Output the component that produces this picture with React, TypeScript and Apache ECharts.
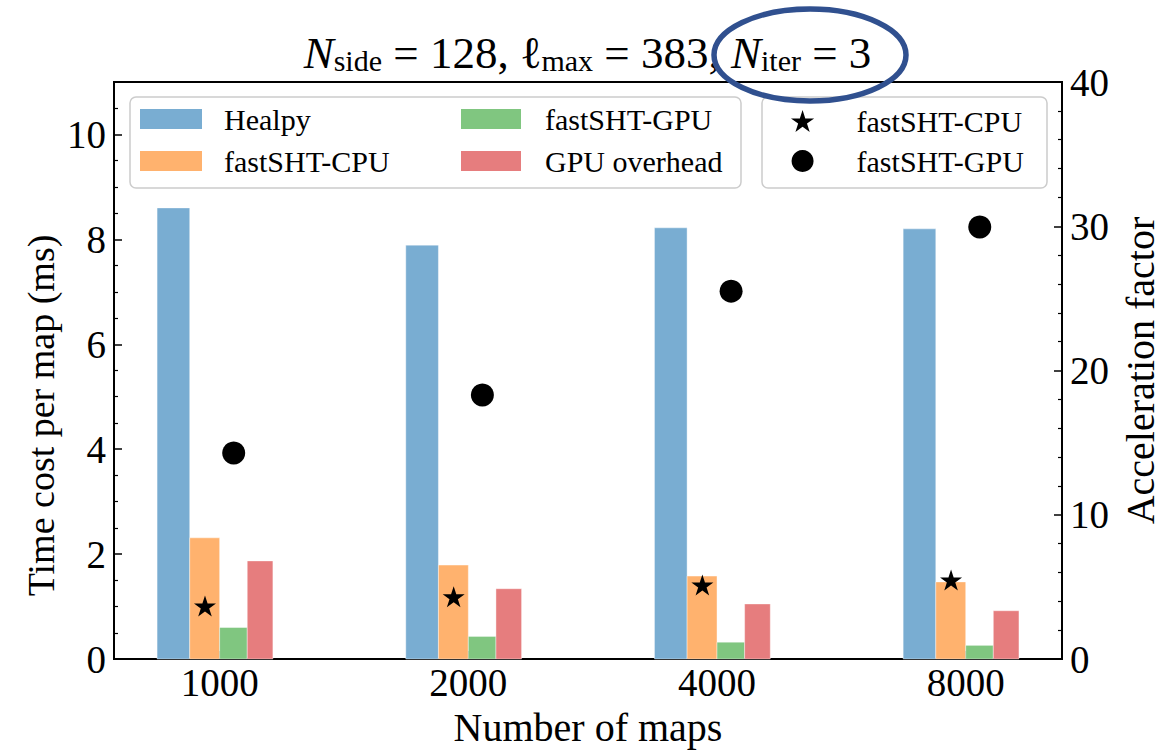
import React, { useEffect, useRef } from "react";
import * as echarts from "echarts";

// Number of maps processed per run (x positions, drawn on a base-2 log scale)
const MAPS = [1000, 2000, 4000, 8000];

// Time cost per map (ms), left axis
const HEALPY = [8.6, 7.89, 8.22, 8.2];
const FASTSHT_CPU = [2.31, 1.79, 1.58, 1.47];
const FASTSHT_GPU = [0.6, 0.43, 0.32, 0.26];
const GPU_OVERHEAD = [1.87, 1.34, 1.05, 0.92];

// Acceleration factor relative to Healpy, right axis
const ACC_CPU = [3.67, 4.32, 5.13, 5.48];
const ACC_GPU = [14.28, 18.3, 25.5, 29.95];

const FONT = "'Liberation Serif', 'DejaVu Serif', serif";

const COLORS = {
  healpy: "#79add2",
  cpu: "#ffb26e",
  gpu: "#80c680",
  overhead: "#e67d7e",
};

const STAR =
  "path://M0,-100L22.45,-30.9L95.1,-30.9L36.3,11.8L58.8,80.9L0,38.2L-58.8,80.9L-36.3,11.8L-95.1,-30.9L-22.45,-30.9Z";

// Each bar spans [n*lo, n*hi] in map-count units (edge-aligned bars on a log axis)
function barSeries(name: string, values: number[], lo: number, hi: number, color: string) {
  return {
    type: "custom",
    name,
    xAxisIndex: 0,
    yAxisIndex: 0,
    z: 2,
    encode: { x: 0, y: 1 },
    data: MAPS.map((n, i) => [Math.log2(n), values[i]]),
    renderItem: (_params: any, api: any) => {
      const x = api.value(0);
      const v = api.value(1);
      const p0 = api.coord([x + Math.log2(lo), v]);
      const p1 = api.coord([x + Math.log2(hi), 0]);
      return {
        type: "rect",
        shape: { x: p0[0], y: p0[1], width: p1[0] - p0[0], height: p1[1] - p0[1] },
        style: { fill: color, stroke: "rgba(255,255,255,0.5)", lineWidth: 0.8 },
      };
    },
  };
}

export default function App() {
  const ref = useRef<HTMLDivElement>(null);

  useEffect(() => {
    if (!ref.current) return;
    const chart = echarts.init(ref.current, null, { renderer: "svg" });

    const legendText = (pad: number) => ({
      fontFamily: FONT,
      fontSize: 30,
      lineHeight: 30,
      color: "#000",
      padding: [0, 0, 0, pad],
    });

    const option: any = {
      animation: false,
      backgroundColor: "#ffffff",
      title: {
        left: "center",
        top: 22,
        text: "{it|N}{sub|side}{rm| = 128, }{rm|ℓ}{sub|max}{rm| = 383, }{it|N}{sub|iter}{rm| = 3}",
        textStyle: {
          fontWeight: "normal",
          rich: {
            it: { fontFamily: FONT, fontSize: 45, fontStyle: "italic", fontWeight: "normal", lineHeight: 48, verticalAlign: "bottom", color: "#000" },
            rm: { fontFamily: FONT, fontSize: 45, fontWeight: "normal", lineHeight: 48, verticalAlign: "bottom", color: "#000" },
            sub: { fontFamily: FONT, fontSize: 30, fontWeight: "normal", lineHeight: 20, verticalAlign: "bottom", color: "#000" },
          },
        },
      },
      grid: {
        left: 114,
        top: 82,
        width: 948,
        height: 577,
        show: true,
        borderColor: "#000",
        borderWidth: 2,
        backgroundColor: "transparent",
        containLabel: false,
        outerBoundsMode: "none",
      },
      xAxis: {
        type: "value",
        min: 9.541,
        max: 13.353,
        name: "Number of maps",
        nameLocation: "middle",
        nameGap: 48,
        nameMoveOverlap: false,
        nameTextStyle: { fontFamily: FONT, fontSize: 40, color: "#000" },
        axisLine: { show: true, lineStyle: { color: "#000", width: 2 } },
        axisTick: {
          show: true,
          inside: true,
          length: 8,
          lineStyle: { color: "#000", width: 1.5 },
          customValues: MAPS.map((n) => Math.log2(n)),
        },
        axisLabel: {
          margin: 4,
          fontFamily: FONT,
          fontSize: 39,
          color: "#000",
          customValues: MAPS.map((n) => Math.log2(n)),
          formatter: (v: number) => String(Math.round(Math.pow(2, v))),
        },
        splitLine: { show: false },
      },
      yAxis: [
        {
          type: "value",
          position: "left",
          min: 0,
          max: 11,
          interval: 2,
          name: "Time cost per map (ms)",
          nameLocation: "middle",
          nameRotate: 90,
          nameGap: 54,
          nameMoveOverlap: false,
          nameTextStyle: { fontFamily: FONT, fontSize: 38, color: "#000", padding: [0, 90, 0, 0] },
          axisLine: { show: true, lineStyle: { color: "#000", width: 2 } },
          axisTick: { show: true, inside: true, length: 8, lineStyle: { color: "#000", width: 1.5 } },
          minorTick: { show: true, splitNumber: 4, length: 4, lineStyle: { color: "#000", width: 1.2 } },
          axisLabel: { margin: 8, fontFamily: FONT, fontSize: 39, color: "#000", showMaxLabel: false },
          splitLine: { show: false },
        },
        {
          type: "value",
          position: "right",
          min: 0,
          max: 40,
          interval: 10,
          name: "Acceleration factor",
          nameLocation: "middle",
          nameRotate: 90,
          nameGap: 58,
          nameMoveOverlap: false,
          nameTextStyle: { fontFamily: FONT, fontSize: 40, color: "#000" },
          axisLine: { show: true, lineStyle: { color: "#000", width: 2 } },
          axisTick: { show: true, inside: true, length: 8, lineStyle: { color: "#000", width: 1.5 } },
          minorTick: { show: true, splitNumber: 5, length: 4, lineStyle: { color: "#000", width: 1.2 } },
          axisLabel: { margin: 8, fontFamily: FONT, fontSize: 39, color: "#000" },
          splitLine: { show: false },
        },
      ],
      legend: [
        {
          left: 140,
          top: 104,
          orient: "vertical",
          padding: 0,
          itemGap: 12,
          itemWidth: 62,
          itemHeight: 20,
          selectedMode: false,
          textStyle: legendText(17),
          data: [
            { name: "Healpy", icon: "rect", itemStyle: { color: COLORS.healpy, borderWidth: 0 } },
            { name: "fastSHT-CPU", icon: "rect", itemStyle: { color: COLORS.cpu, borderWidth: 0 } },
          ],
          z: 5,
        },
        {
          left: 461,
          top: 104,
          orient: "vertical",
          padding: 0,
          itemGap: 12,
          itemWidth: 60,
          itemHeight: 20,
          selectedMode: false,
          textStyle: legendText(19),
          data: [
            { name: "fastSHT-GPU", icon: "rect", itemStyle: { color: COLORS.gpu, borderWidth: 0 } },
            { name: "GPU overhead", icon: "rect", itemStyle: { color: COLORS.overhead, borderWidth: 0 } },
          ],
          z: 5,
        },
        {
          left: 791,
          top: 106,
          orient: "vertical",
          padding: 0,
          itemGap: 10,
          itemWidth: 24,
          itemHeight: 22,
          selectedMode: false,
          textStyle: legendText(37),
          data: [
            { name: "fastSHT-CPU", icon: STAR, itemStyle: { color: "#000", borderWidth: 0, opacity: 1 } },
            { name: "fastSHT-GPU", icon: "circle", itemStyle: { color: "#000", borderWidth: 0, opacity: 1 } },
          ],
          z: 5,
        },
      ],
      graphic: [
        {
          type: "rect",
          z: 4,
          shape: { x: 130, y: 97, width: 611, height: 91, r: 6 },
          style: { fill: "rgba(255,255,255,0.8)", stroke: "#cccccc", lineWidth: 1.5 },
        },
        {
          type: "rect",
          z: 4,
          shape: { x: 762, y: 97, width: 285, height: 91, r: 6 },
          style: { fill: "rgba(255,255,255,0.8)", stroke: "#cccccc", lineWidth: 1.5 },
        },
        {
          type: "ellipse",
          z: 10,
          shape: { cx: 810, cy: 55, rx: 96, ry: 46 },
          style: { fill: "none", stroke: "#30508f", lineWidth: 5.5 },
        },
      ],
      series: [
        barSeries("Healpy", HEALPY, 0.84, 0.92, COLORS.healpy),
        barSeries("fastSHT-CPU", FASTSHT_CPU, 0.92, 1.0, COLORS.cpu),
        barSeries("fastSHT-GPU", FASTSHT_GPU, 1.0, 1.08, COLORS.gpu),
        barSeries("GPU overhead", GPU_OVERHEAD, 1.08, 1.16, COLORS.overhead),
        {
          type: "scatter",
          name: "fastSHT-CPU",
          xAxisIndex: 0,
          yAxisIndex: 1,
          z: 3,
          symbol: STAR,
          symbolKeepAspect: true,
          symbolSize: 22,
          itemStyle: { color: "#000", opacity: 1 },
          data: MAPS.map((n, i) => [Math.log2(n * 0.96), ACC_CPU[i]]),
        },
        {
          type: "scatter",
          name: "fastSHT-GPU",
          xAxisIndex: 0,
          yAxisIndex: 1,
          z: 3,
          symbol: "circle",
          symbolSize: 23,
          itemStyle: { color: "#000", opacity: 1 },
          data: MAPS.map((n, i) => [Math.log2(n * 1.04), ACC_GPU[i]]),
        },
      ],
    };

    chart.setOption(option);
    return () => chart.dispose();
  }, []);

  return (
    <div
      ref={ref}
      style={{ position: "fixed", left: 0, top: 0, width: 1175, height: 751, background: "#fff" }}
    />
  );
}
